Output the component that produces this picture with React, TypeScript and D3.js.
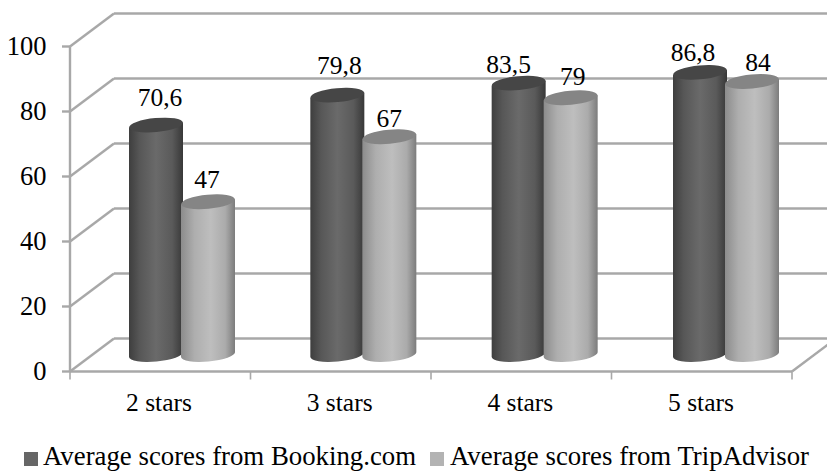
import React from "react";
import * as d3 from "d3";

// Hotel review scores by star rating
const categories = ["2 stars", "3 stars", "4 stars", "5 stars"];
const bookingScores = [70.6, 79.8, 83.5, 86.8];
const tripAdvisorScores = [47, 67, 79, 84];
const yTicks = [0, 20, 40, 60, 80, 100];
const seriesNames = ["Average scores from Booking.com", "Average scores from TripAdvisor"];

// Hand placement of the value labels relative to each cylinder: [dx, gap above the cap]
const bookingLabelOffsets = [[4, 19], [2, 21], [-10, 10], [-7, 11]];
const tripLabelOffsets = [[-1, 14], [0, 10], [2, 13], [6, 11]];

const WIDTH = 827;
const HEIGHT = 471;
const FONT = '"Liberation Serif", "Times New Roman", serif';
const GRID = "#a8a8a8";

// Depth of the 3D box: offset from the front plane to the back wall
const DEPTH_X = 44;
const DEPTH_Y = -33;

const y = d3.scaleLinear().domain([0, 100]).range([371.5, 46.5]);
const xFront = d3.scalePoint<number>().domain(d3.range(5)).range([70, 792]);
const barLeft = d3.scalePoint<string>().domain(categories).range([129, 673]);
const labelX = d3.scalePoint<string>().domain(categories).range([159, 701]);

const BAR_W = 54;
const RX = BAR_W / 2;
const RY = 7;
const TILT = -5.3;
const RISE = 2.5;
// The cylinder base sits behind the front plane by a fixed amount
const baseShift = y(0) - 354.5;

function Cylinder({ left, value, grad, cap }: { left: number; value: number; grad: string; cap: string }) {
  const cx = left + RX;
  const yBase = y(value) - baseShift;
  const yFloor = y(0) - baseShift;
  const path = d3.path();
  path.moveTo(cx - RX, yBase + RISE);
  path.lineTo(cx - RX, yFloor + RISE);
  const bottomArc = `A${RX} ${RY} ${TILT} 0 0 ${cx + RX} ${yFloor - RISE}`;
  const d = `${path.toString()}${bottomArc}L${cx + RX} ${yBase - RISE}Z`;
  return (
    <g>
      <path d={d} fill={`url(#${grad})`} />
      <ellipse cx={cx} cy={yBase} rx={RX} ry={RY} fill={cap} transform={`rotate(${TILT} ${cx} ${yBase})`} />
    </g>
  );
}

export default function App() {
  const text = { fontFamily: FONT, fontSize: 25.5, fill: "#000" };
  const legendText = { ...text, fontSize: 26.8 };
  return (
    <svg
      width={WIDTH}
      height={HEIGHT}
      viewBox={`0 0 ${WIDTH} ${HEIGHT}`}
      style={{ position: "fixed", left: 0, top: 0, display: "block", background: "#fff" }}
    >
      <defs>
        <linearGradient id="darkBody" x1="0" x2="1" y1="0" y2="0">
          <stop offset="0" stopColor="#3e3e3e" />
          <stop offset="0.2" stopColor="#575757" />
          <stop offset="0.5" stopColor="#6a6a6a" />
          <stop offset="0.8" stopColor="#5a5a5a" />
          <stop offset="1" stopColor="#383838" />
        </linearGradient>
        <linearGradient id="lightBody" x1="0" x2="1" y1="0" y2="0">
          <stop offset="0" stopColor="#8c8c8c" />
          <stop offset="0.25" stopColor="#aeaeae" />
          <stop offset="0.55" stopColor="#bebebe" />
          <stop offset="0.82" stopColor="#ababab" />
          <stop offset="1" stopColor="#7c7c7c" />
        </linearGradient>
      </defs>

      {/* Back wall gridlines with their side-wall diagonals */}
      <g stroke={GRID} strokeWidth={2.4} fill="none">
        {yTicks.map((t) => (
          <g key={t}>
            <line x1={62} x2={70} y1={y(t)} y2={y(t)} />
            <line x1={70} x2={70 + DEPTH_X} y1={y(t)} y2={y(t) + DEPTH_Y} />
            <line x1={70 + DEPTH_X} x2={WIDTH} y1={y(t) + DEPTH_Y} y2={y(t) + DEPTH_Y} />
          </g>
        ))}
        <line x1={70} x2={70} y1={y(100)} y2={y(0)} />
        <line x1={70} x2={792} y1={y(0)} y2={y(0)} />
        <line x1={792} x2={792 + DEPTH_X} y1={y(0)} y2={y(0) + DEPTH_Y} />
        {xFront.domain().map((i) => (
          <line key={i} x1={xFront(i)} x2={xFront(i)} y1={y(0)} y2={y(0) + 8} strokeWidth={1.6} />
        ))}
      </g>

      {/* Value axis labels */}
      {yTicks.map((t) => (
        <text key={t} x={46.5} y={y(t) + 8.5} textAnchor="end" {...text} fontSize={26.5}>
          {t}
        </text>
      ))}

      {/* Cylinders: Booking.com on the left, TripAdvisor overlapping on its right */}
      {categories.map((c, i) => {
        const left = barLeft(c) as number;
        return (
          <g key={c}>
            <Cylinder left={left} value={bookingScores[i]} grad="darkBody" cap="#464646" />
            <Cylinder left={left + 52} value={tripAdvisorScores[i]} grad="lightBody" cap="#858585" />
          </g>
        );
      })}

      {/* Value labels above the caps */}
      {categories.map((c, i) => {
        const left = barLeft(c) as number;
        const [dxA, gapA] = bookingLabelOffsets[i];
        const [dxB, gapB] = tripLabelOffsets[i];
        return (
          <g key={c}>
            <text
              x={left + RX + dxA}
              y={y(bookingScores[i]) - baseShift - gapA}
              textAnchor="middle"
              {...text}
            >
              {String(bookingScores[i]).replace(".", ",")}
            </text>
            <text
              x={left + 52 + RX + dxB}
              y={y(tripAdvisorScores[i]) - baseShift - gapB}
              textAnchor="middle"
              {...text}
            >
              {String(tripAdvisorScores[i]).replace(".", ",")}
            </text>
          </g>
        );
      })}

      {/* Category labels */}
      {categories.map((c) => (
        <text key={c} x={labelX(c)} y={411} textAnchor="middle" {...text}>
          {c}
        </text>
      ))}

      {/* Legend */}
      <rect x={24} y={452} width={14} height={14} fill="#666666" />
      <text x={43} y={465} {...legendText}>
        {seriesNames[0]}
      </text>
      <rect x={430} y={452} width={14} height={14} fill="#b3b3b3" />
      <text x={450} y={465} {...legendText}>
        {seriesNames[1]}
      </text>
    </svg>
  );
}
